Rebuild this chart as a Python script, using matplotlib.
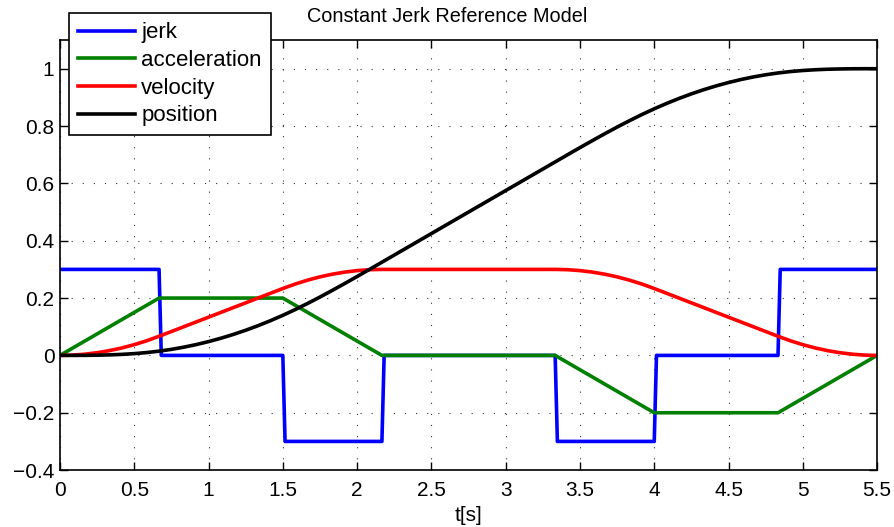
import matplotlib.pyplot as plt

plt.rcParams['font.family'] = ['Liberation Sans', 'DejaVu Sans']

# jerk profile (step changes, sampled)
t_jerk = [0, 0.667, 0.682, 1.5, 1.515, 2.167, 2.182, 3.333, 3.348,
          4.0, 4.015, 4.833, 4.848, 5.5]
jerk = [0.3, 0.3, 0, 0, -0.3, -0.3, 0, 0, -0.3, -0.3, 0, 0, 0.3, 0.3]

# acceleration breakpoints
t_acc = [0, 0.667, 1.5, 2.167, 3.333, 4.0, 4.833, 5.5]
acc = [0, 0.2, 0.2, 0, 0, -0.2, -0.2, 0]

# velocity and position, every 1/12 s
t_vp = [k / 12 for k in range(67)]
vel = [0, 0.0010, 0.0042, 0.0094, 0.0167, 0.0260, 0.0375, 0.0510, 0.0667,
       0.0833, 0.1000, 0.1167, 0.1333, 0.1500, 0.1667, 0.1833, 0.2000,
       0.2167, 0.2333, 0.2490, 0.2625, 0.2740, 0.2833, 0.2906, 0.2958,
       0.2990, 0.3, 0.3, 0.3, 0.3, 0.3, 0.3, 0.3, 0.3, 0.3, 0.3, 0.3, 0.3,
       0.3, 0.3, 0.3, 0.2990, 0.2958, 0.2906, 0.2833, 0.2740, 0.2625,
       0.2490, 0.2333, 0.2167, 0.2000, 0.1833, 0.1667, 0.1500, 0.1333,
       0.1167, 0.1000, 0.0833, 0.0667, 0.0510, 0.0375, 0.0260, 0.0167,
       0.0094, 0.0042, 0.0010, 0]
pos = [0, 0.00003, 0.00023, 0.00078, 0.00185, 0.00362, 0.00625, 0.00992,
       0.01481, 0.02106, 0.0287, 0.03773, 0.04815, 0.05995, 0.07315,
       0.08773, 0.1037, 0.1211, 0.1398, 0.1599, 0.1813, 0.2036, 0.2269,
       0.2508, 0.2752, 0.3000, 0.3250, 0.35, 0.375, 0.4, 0.425, 0.45, 0.475,
       0.5, 0.525, 0.55, 0.575, 0.6, 0.625, 0.65, 0.675, 0.7000, 0.7248,
       0.7492, 0.7731, 0.7964, 0.8187, 0.8401, 0.8602, 0.8789, 0.8963,
       0.9123, 0.9269, 0.9401, 0.9519, 0.9623, 0.9713, 0.9789, 0.9852,
       0.9901, 0.9938, 0.9964, 0.9982, 0.9992, 0.9998, 1.0, 1.0]

fig = plt.figure(figsize=(8.95, 5.27), dpi=100)
ax = fig.add_axes([0.067, 0.108, 0.913, 0.816])

lw = 2.6
ax.plot(t_jerk, jerk, color='#0000ff', lw=lw, label='jerk')
ax.plot(t_acc, acc, color='#008000', lw=lw, label='acceleration')
ax.plot(t_vp, vel, color='#ff0000', lw=lw, label='velocity')
ax.plot(t_vp, pos, color='#000000', lw=lw, label='position')

ax.set_xlim(0, 5.5)
ax.set_ylim(-0.4, 1.1)
ax.set_xticks([0, 0.5, 1, 1.5, 2, 2.5, 3, 3.5, 4, 4.5, 5, 5.5])
ax.set_xticklabels(['0', '0.5', '1', '1.5', '2', '2.5', '3', '3.5', '4', '4.5', '5', '5.5'])
ax.set_yticks([-0.4, -0.2, 0, 0.2, 0.4, 0.6, 0.8, 1])
ax.set_yticklabels(['\u22120.4', '\u22120.2', '0', '0.2', '0.4', '0.6', '0.8', '1'])
ax.tick_params(direction='in', top=True, right=True, length=6, width=1,
               labelsize=15, pad=4)
ax.tick_params(axis='x', pad=8)
ax.grid(True, linestyle=(0, (1, 9)), color='#333333', linewidth=0.8)
for s in ax.spines.values():
    s.set_linewidth(1.2)

# title sits centred on the figure, not the axes
fig.text(0.5, 0.958, 'Constant Jerk Reference Model', fontsize=14.3,
         ha='center', va='baseline')
ax.set_xlabel('t[s]', fontsize=15, labelpad=4)

leg = ax.legend(loc='upper left', bbox_to_anchor=(0.011, 1.062), fontsize=16,
                frameon=True, fancybox=False, framealpha=1, edgecolor='black',
                handlelength=2.55, handletextpad=0.3, borderpad=0.4,
                labelspacing=0.3, borderaxespad=0)
leg.get_frame().set_linewidth(1.2)
leg.set_zorder(5)

fig.savefig('out.png', dpi=100)
